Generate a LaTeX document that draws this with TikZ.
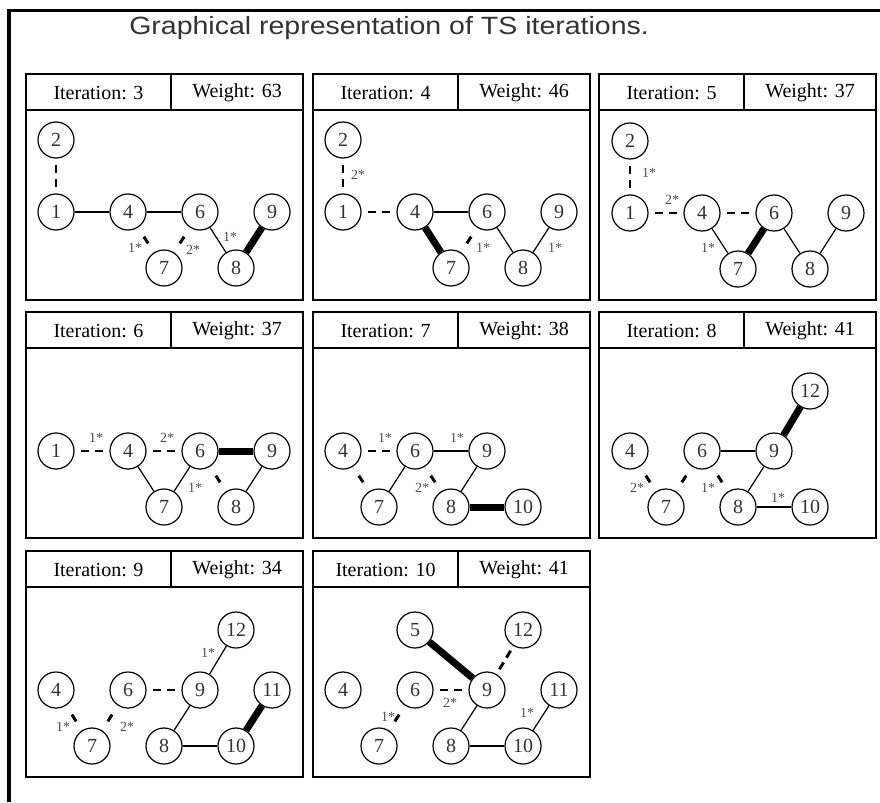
\documentclass[tikz,border=0pt]{standalone}
\usepackage{fontspec}
\setmainfont{Liberation Serif}
\newfontfamily\titlefont{Liberation Sans}
\usetikzlibrary{decorations}

\begin{document}
\begin{tikzpicture}[x=0.75pt,y=-0.75pt,
  main node/.style={circle,draw,line width=0.9pt,minimum size=27pt,inner sep=0pt,
    font=\fontsize{15}{15}\selectfont,text=black!80},
  kept edge/.style={line width=0.9pt},
  dash edge/.style={line width=2.2pt,dash pattern=on 6pt off 3.5pt,dash expand off},
  tabu edge/.style={line width=1.2pt,dash pattern=on 6pt off 3.5pt,dash expand off},
  new edge/.style={line width=5.25pt},
  cost/.style={font=\fontsize{10.5}{10.5}\selectfont,text=black!70,inner sep=0pt},
  box/.style={line width=1.1pt}]

  \useasboundingbox (0,0) rectangle (880,802);
  \draw[line width=2.4pt] (880,10.5) -- (9,10.5) -- (9,802);
  \node[anchor=base west,inner sep=0pt,text=black!80,font=\titlefont\fontsize{18.75}{18.75}\selectfont] (title) at (129,35)
    {\scalebox{1.14}[1]{Graphical representation of TS iterations.}};

  % panel frames and headers
  \foreach \x/\y/\n/\wt in {26/74/3/63, 313/74/4/46, 599/74/5/37,
                            26/312/6/37, 313/312/7/38, 599/312/8/41,
                            26/551/9/34, 313/551/10/41} {
    \draw[box] (\x,\y) rectangle +(277,36);
    \draw[box] (\x+145,\y) -- +(0,36);
    \draw[box] (\x,\y+36) rectangle +(277,190);
    \node[font=\fontsize{15}{15}\selectfont] at (\x+72.5,\y+19) {Iteration: \n};
    \node[font=\fontsize{15}{15}\selectfont] at (\x+211,\y+19) {Weight: \wt};
  }

  % iteration 3
  \begin{scope}[shift={(26,110)}]
  \node[main node] (a2) at (30,30) {2};
  \node[main node] (a1) at (30,102) {1};
  \node[main node] (a4) at (102,102) {4};
  \node[main node] (a6) at (174,102) {6};
  \node[main node] (a9) at (246,102) {9};
  \node[main node] (a7) at (138,158) {7};
  \node[main node] (a8) at (210,158) {8};
  \path (a2) edge[tabu edge] (a1)
    (a1) edge[kept edge] (a4)
    (a4) edge[kept edge] (a6)
    (a4) edge[dash edge] (a7)
    (a6) edge[dash edge] (a7)
    (a6) edge[kept edge] (a8)
    (a8) edge[new edge] (a9);
  \node[cost] at (109,138) {1*};
  \node[cost] at (167,140) {2*};
  \node[cost] at (204,127) {1*};
  \end{scope}

  % iteration 4
  \begin{scope}[shift={(313,110)}]
  \node[main node] (b2) at (30,30) {2};
  \node[main node] (b1) at (30,102) {1};
  \node[main node] (b4) at (102,102) {4};
  \node[main node] (b6) at (174,102) {6};
  \node[main node] (b9) at (246,102) {9};
  \node[main node] (b7) at (138,158) {7};
  \node[main node] (b8) at (210,158) {8};
  \path (b2) edge[dash edge] (b1)
    (b1) edge[dash edge] (b4)
    (b4) edge[kept edge] (b6)
    (b4) edge[new edge] (b7)
    (b6) edge[dash edge] (b7)
    (b6) edge[kept edge] (b8)
    (b8) edge[kept edge] (b9);
  \node[cost] at (45,65) {2*};
  \node[cost] at (170,138) {1*};
  \node[cost] at (242,138) {1*};
  \end{scope}

  % iteration 5
  \begin{scope}[shift={(600,111)}]
  \node[main node] (c2) at (30,30) {2};
  \node[main node] (c1) at (30,102) {1};
  \node[main node] (c4) at (102,102) {4};
  \node[main node] (c6) at (174,102) {6};
  \node[main node] (c9) at (246,102) {9};
  \node[main node] (c7) at (138,158) {7};
  \node[main node] (c8) at (210,158) {8};
  \path (c2) edge[dash edge] (c1)
    (c1) edge[dash edge] (c4)
    (c4) edge[dash edge] (c6)
    (c4) edge[kept edge] (c7)
    (c6) edge[new edge] (c7)
    (c6) edge[kept edge] (c8)
    (c8) edge[kept edge] (c9);
  \node[cost] at (49,62) {1*};
  \node[cost] at (72,89) {2*};
  \node[cost] at (108,137) {1*};
  \end{scope}

  % iteration 6
  \begin{scope}[shift={(26,349)}]
  \node[main node] (d1) at (30,102) {1};
  \node[main node] (d4) at (102,102) {4};
  \node[main node] (d6) at (174,102) {6};
  \node[main node] (d9) at (246,102) {9};
  \node[main node] (d7) at (138,158) {7};
  \node[main node] (d8) at (210,158) {8};
  \path (d1) edge[dash edge] (d4)
    (d4) edge[dash edge] (d6)
    (d6) edge[new edge] (d9)
    (d4) edge[kept edge] (d7)
    (d6) edge[kept edge] (d7)
    (d6) edge[dash edge] (d8)
    (d9) edge[kept edge] (d8);
  \node[cost] at (70,89) {1*};
  \node[cost] at (141,89) {2*};
  \node[cost] at (169,139) {1*};
  \end{scope}

  % iteration 7
  \begin{scope}[shift={(313,349)}]
  \node[main node] (e4) at (30,102) {4};
  \node[main node] (e6) at (102,102) {6};
  \node[main node] (e9) at (174,102) {9};
  \node[main node] (e7) at (66,158) {7};
  \node[main node] (e8) at (138,158) {8};
  \node[main node] (e10) at (210,158) {10};
  \path (e4) edge[dash edge] (e6)
    (e6) edge[kept edge] (e9)
    (e4) edge[dash edge] (e7)
    (e6) edge[kept edge] (e7)
    (e6) edge[dash edge] (e8)
    (e9) edge[kept edge] (e8)
    (e8) edge[new edge] (e10);
  \node[cost] at (72,89) {1*};
  \node[cost] at (144,89) {1*};
  \node[cost] at (109,139) {2*};
  \end{scope}

  % iteration 8
  \begin{scope}[shift={(600,349)}]
  \node[main node] (f12) at (210,42) {12};
  \node[main node] (f4) at (30,102) {4};
  \node[main node] (f6) at (102,102) {6};
  \node[main node] (f9) at (174,102) {9};
  \node[main node] (f7) at (66,158) {7};
  \node[main node] (f8) at (138,158) {8};
  \node[main node] (f10) at (210,158) {10};
  \path (f4) edge[dash edge] (f7)
    (f6) edge[dash edge] (f7)
    (f6) edge[kept edge] (f9)
    (f6) edge[dash edge] (f8)
    (f9) edge[kept edge] (f8)
    (f9) edge[new edge] (f12)
    (f8) edge[kept edge] (f10);
  \node[cost] at (37,139) {2*};
  \node[cost] at (108,139) {1*};
  \node[cost] at (178,149) {1*};
  \end{scope}

  % iteration 9
  \begin{scope}[shift={(26,588)}]
  \node[main node] (g12) at (210,42) {12};
  \node[main node] (g4) at (30,102) {4};
  \node[main node] (g6) at (102,102) {6};
  \node[main node] (g9) at (174,102) {9};
  \node[main node] (g11) at (246,102) {11};
  \node[main node] (g7) at (66,158) {7};
  \node[main node] (g8) at (138,158) {8};
  \node[main node] (g10) at (210,158) {10};
  \path (g4) edge[dash edge] (g7)
    (g6) edge[dash edge] (g7)
    (g6) edge[dash edge] (g9)
    (g9) edge[kept edge] (g12)
    (g9) edge[kept edge] (g8)
    (g8) edge[kept edge] (g10)
    (g10) edge[new edge] (g11);
  \node[cost] at (37,139) {1*};
  \node[cost] at (101,139) {2*};
  \node[cost] at (182,65) {1*};
  \end{scope}

  % iteration 10
  \begin{scope}[shift={(313,588)}]
  \node[main node] (h5) at (102,42) {5};
  \node[main node] (h12) at (210,42) {12};
  \node[main node] (h4) at (30,102) {4};
  \node[main node] (h6) at (102,102) {6};
  \node[main node] (h9) at (174,102) {9};
  \node[main node] (h11) at (246,102) {11};
  \node[main node] (h7) at (66,158) {7};
  \node[main node] (h8) at (138,158) {8};
  \node[main node] (h10) at (210,158) {10};
  \path (h5) edge[new edge] (h9)
    (h9) edge[dash edge] (h12)
    (h6) edge[dash edge] (h9)
    (h6) edge[dash edge] (h7)
    (h9) edge[kept edge] (h8)
    (h8) edge[kept edge] (h10)
    (h10) edge[kept edge] (h11);
  \node[cost] at (137,115) {2*};
  \node[cost] at (75,129) {1*};
  \node[cost] at (214,125) {1*};
  \end{scope}
\end{tikzpicture}
\end{document}
